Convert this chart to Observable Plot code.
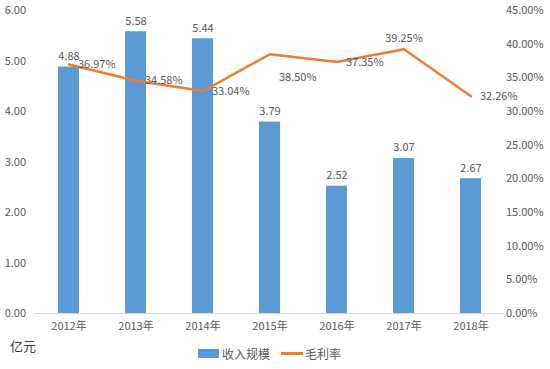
<!DOCTYPE html>
<html><head><meta charset="utf-8">
<script src="https://cdn.jsdelivr.net/npm/d3@7"></script>
<script src="https://cdn.jsdelivr.net/npm/@observablehq/plot@0.6"></script>
<style>
body{margin:0;background:#fff;font-family:"Noto Sans CJK SC","Open Sans",sans-serif;}
#wrap{width:550px;position:relative;}
#foot{position:relative;height:31px;font-size:12px;color:#595959;}
</style></head><body>
<div id="wrap"><div id="chart"></div>
<div id="foot">
  <span style="position:absolute;left:10px;top:-2px;font-size:13px;color:#404040;">亿元</span>
  <span style="position:absolute;left:198px;top:7px;display:flex;align-items:center;">
    <span style="display:inline-block;width:21px;height:9px;background:#5B9BD5;margin-right:3px;"></span>收入规模
    <span style="display:inline-block;width:22px;height:2.5px;background:#ED7D31;margin-left:11px;margin-right:2px;"></span>毛利率
  </span>
</div></div>
<script>
const years = ["2012年","2013年","2014年","2015年","2016年","2017年","2018年"];
const revenue = [4.88,5.58,5.44,3.79,2.52,3.07,2.67];
const margin = [36.97,34.58,33.04,38.50,37.35,39.25,32.26];
const leftTicks = [0,1,2,3,4,5,6];
const rightTicks = [0,5,10,15,20,25,30,35,40,45];
const ratio = 6/45; // right axis % to left axis units

const data = years.map((y,i)=>({year:y, rev:revenue[i], pct:margin[i], pv:margin[i]*ratio}));
const grey = "#595959";
const fs = 11;

const chart = Plot.plot({
  width:550, height:338,
  marginTop:10, marginBottom:25, marginLeft:34.5, marginRight:46.5,
  style:{fontFamily:'"Noto Sans CJK SC","Open Sans",sans-serif', fontSize:fs+"px", color:grey},
  x:{domain:years, paddingInner:0.69, paddingOuter:0.345, label:null},
  y:{domain:[0,6], label:null},
  marks:[
    Plot.ruleY([0],{stroke:"#d9d9d9"}),
    Plot.barY(data,{x:"year", y:"rev", fill:"#5B9BD5"}),
    Plot.text(data,{x:"year", y:"rev", text:d=>d.rev.toFixed(2), dy:-7, lineAnchor:"bottom", fill:grey, fontSize:fs}),
    Plot.line(data,{x:"year", y:"pv", stroke:"#ED7D31", strokeWidth:2.5}),
    Plot.text(data.filter(d=>!["2015年","2017年"].includes(d.year)),{x:"year", y:"pv", text:d=>d.pct.toFixed(2)+"%", textAnchor:"start", dx:9, fill:grey, fontSize:fs}),
    Plot.text(data.filter(d=>d.year==="2015年"),{x:"year", y:"pv", text:d=>d.pct.toFixed(2)+"%", textAnchor:"start", dx:9, dy:23, fill:grey, fontSize:fs}),
    Plot.text(data.filter(d=>d.year==="2017年"),{x:"year", y:"pv", text:d=>d.pct.toFixed(2)+"%", dy:-7, lineAnchor:"bottom", fill:grey, fontSize:fs}),
    Plot.axisY({ticks:leftTicks, tickFormat:d=>d.toFixed(2), tickSize:0, tickPadding:9, fontSize:fs}),
    Plot.axisY({anchor:"right", ticks:rightTicks.map(p=>p*ratio), tickFormat:d=>(d/ratio).toFixed(2)+"%", tickSize:0, tickPadding:2, fontSize:fs}),
    Plot.axisX({tickSize:0, tickPadding:9, fontSize:fs})
  ]
});
document.getElementById("chart").appendChild(chart);
</script></body></html>
